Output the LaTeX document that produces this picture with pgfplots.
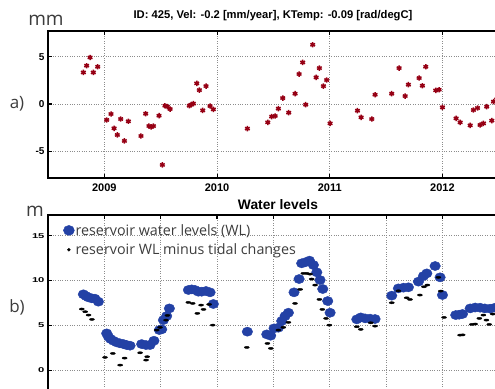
\documentclass[border=0pt]{standalone}
\usepackage{pgfplots}
\pgfplotsset{compat=1.18}
\usepackage{fontspec}
\setmainfont{Liberation Sans}
\newfontfamily\osans{Open Sans}
\definecolor{ptred}{RGB}{150,0,20}
\definecolor{wlblue}{RGB}{35,65,165}
\definecolor{labgray}{RGB}{60,60,60}
\definecolor{gridgray}{RGB}{140,140,140}

\pgfplotstableread{
x y
2008.814 3.33
2008.843 4.04
2008.873 4.91
2008.902 3.33
2008.941 3.93
2009.021 -1.68
2009.059 -1.05
2009.086 -2.56
2009.115 -3.26
2009.145 -1.58
2009.178 -3.89
2009.213 -1.82
2009.325 -3.37
2009.367 -1.02
2009.396 -2.32
2009.414 -2.42
2009.435 -2.32
2009.485 -1.23
2009.515 -6.42
2009.538 -0.18
2009.559 -0.28
2009.583 -0.53
2009.754 -0.18
2009.769 -0.07
2009.790 0.04
2009.820 2.18
2009.843 1.47
2009.873 -0.67
2009.902 1.89
2009.938 -0.21
2009.967 -0.56
2010.269 -2.60
2010.450 -1.93
2010.485 -1.33
2010.515 -1.26
2010.544 -0.49
2010.583 0.63
2010.636 -0.91
2010.692 1.09
2010.728 3.16
2010.760 4.39
2010.787 -0.07
2010.849 6.25
2010.879 2.81
2010.908 3.79
2010.944 1.89
2010.973 2.53
2011.003 -2.04
2011.246 -0.70
2011.278 -1.40
2011.373 -1.58
2011.402 0.98
2011.550 1.09
2011.615 3.79
2011.669 0.84
2011.698 2.04
2011.793 2.74
2011.822 1.93
2011.852 3.93
2011.941 1.44
2011.970 1.51
2012.000 -0.35
2012.121 -1.51
2012.157 -1.93
2012.246 -2.25
2012.275 -0.63
2012.311 -0.42
2012.334 -2.21
2012.364 -2.04
2012.393 -0.28
2012.438 -1.75
2012.453 0.25
2012.482 0.49
}\disp

\pgfplotstableread{
x y
2008.814 8.47
2008.837 8.28
2008.858 8.13
2008.888 8.02
2008.917 7.98
2008.947 7.65
2009.021 4.12
2009.036 3.75
2009.056 3.49
2009.080 3.30
2009.109 3.12
2009.139 3.01
2009.169 2.93
2009.198 2.82
2009.228 2.75
2009.331 2.93
2009.370 2.82
2009.405 2.82
2009.440 3.30
2009.488 4.49
2009.509 4.57
2009.524 5.60
2009.553 6.05
2009.577 6.90
2009.746 8.95
2009.775 9.02
2009.805 8.95
2009.834 8.76
2009.864 8.76
2009.902 8.84
2009.938 8.69
2009.967 7.39
2010.269 4.31
2010.441 4.01
2010.476 3.86
2010.506 4.68
2010.544 4.75
2010.574 5.50
2010.604 6.05
2010.633 6.42
2010.683 8.69
2010.728 10.17
2010.751 11.92
2010.781 12.03
2010.820 12.22
2010.855 11.73
2010.885 10.92
2010.914 10.06
2010.938 9.06
2010.982 7.72
2011.003 6.42
2011.240 5.68
2011.275 5.90
2011.314 5.79
2011.358 5.76
2011.402 5.72
2011.550 8.32
2011.609 9.13
2011.654 9.21
2011.698 9.25
2011.787 9.88
2011.831 10.50
2011.861 10.80
2011.935 11.62
2011.979 10.36
2012.000 8.39
2012.118 6.16
2012.148 6.20
2012.178 6.28
2012.246 6.90
2012.290 7.00
2012.334 6.98
2012.376 6.90
2012.423 6.87
2012.467 6.98
}\wl

\pgfplotstableread{
x y
2008.800 6.83
2008.830 6.53
2008.860 6.16
2008.890 5.68
2009.006 1.45
2009.075 1.89
2009.140 0.59
2009.180 1.37
2009.317 1.96
2009.370 1.15
2009.380 1.52
2009.465 4.49
2009.494 4.79
2009.547 5.60
2009.560 6.12
2009.745 7.57
2009.784 7.46
2009.825 6.35
2009.858 7.27
2009.880 6.79
2009.930 7.35
2009.962 5.04
2010.264 2.56
2010.447 3.00
2010.477 2.45
2010.544 4.49
2010.588 4.79
2010.633 5.35
2010.692 7.46
2010.737 9.02
2010.766 10.80
2010.796 10.80
2010.825 10.72
2010.840 10.17
2010.870 9.50
2010.908 7.90
2010.934 6.79
2010.967 5.79
2010.997 5.04
2011.240 4.86
2011.275 4.57
2011.364 5.30
2011.402 4.93
2011.550 7.53
2011.609 8.86
2011.683 8.08
2011.712 7.90
2011.800 8.39
2011.836 9.31
2011.866 9.50
2011.964 10.36
2011.985 8.83
2012.014 5.90
2012.156 3.93
2012.180 3.95
2012.260 5.12
2012.290 5.16
2012.327 5.79
2012.363 6.16
2012.390 5.60
2012.415 5.12
2012.446 6.27
}\tidal

\begin{document}
\begin{tikzpicture}
\useasboundingbox (0pt,0pt) rectangle (495pt,388pt);
\clip (0pt,0pt) rectangle (495pt,388pt);
\pgfplotsset{
  matstyle/.style={
    scale only axis,
    width=507.15pt,
    xmin=2008.5, xmax=2013,
    axis line style={line width=1.3pt},
    tick align=inside,
    major tick length=4pt,
    tick style={line width=1.1pt, black},
    grid=major,
    grid style={dotted, line width=0.8pt, gridgray},
    /pgf/number format/assume math mode=true,
    /pgf/number format/1000 sep={},
    clip=false,
  }
}
% top panel
\begin{axis}[matstyle,
  at={(48pt,210pt)}, anchor=south west,
  height=147pt,
  ymin=-7.8, ymax=7.7,
  xtick={2009,2010,2011,2012},
  ytick={-5,0,5},
  xticklabel style={font=\bfseries\fontsize{11}{12}\selectfont, yshift=-2pt},
  yticklabel style={font=\bfseries\fontsize{10}{11}\selectfont},
]
\addplot[only marks, mark=asterisk, mark size=2.7pt, ptred, line width=1.5pt] table[x=x,y=y] {\disp};
\end{axis}
% bottom panel
\begin{axis}[matstyle,
  at={(48pt,173pt)}, anchor=north west,
  height=200.3pt,
  ymin=-5, ymax=17.3,
  xtick={2009,2009.5,...,2012.5},
  xticklabels={},
  ytick={0,5,10,15},
  yticklabel={\scalebox{1.6}[1]{\pgfmathprintnumber{\tick}}},
  yticklabel style={font=\bfseries\fontsize{7}{8}\selectfont},
  legend style={draw=none, fill=none, at={(0,1)}, anchor=north west,
    xshift=15pt, yshift=-8pt, inner sep=0pt,
    font=\osans\fontsize{14.3}{16}\selectfont, text=labgray,
    row sep=5pt,
    nodes={inner sep=1pt, anchor=west}},
  legend cell align=left,
]
\addplot[only marks, mark=*, mark size=4.6pt, wlblue, mark options={xscale=1.15},
  legend image code/.code={\fill[wlblue] (5pt,0) ellipse (5.5pt and 5pt);}]
  table[x=x,y=y] {\wl};
\addlegendentry{reservoir water levels (WL)}
\addplot[only marks, mark=*, mark size=1.1pt, black, mark options={xscale=2.3},
  legend image code/.code={\fill[black] (5pt,0) circle (1.5pt);}]
  table[x=x,y=y] {\tidal};
\addlegendentry{reservoir WL minus tidal changes}
\end{axis}
% titles and panel labels
\node[font=\bfseries\fontsize{11.2}{12}\selectfont] at (273pt,372pt) {ID: 425, Vel: -0.2 [mm/year], KTemp: -0.09 [rad/degC]};
\node[font=\bfseries\fontsize{13.8}{15}\selectfont] at (278pt,183pt) {Water levels};
\node[font=\osans\fontsize{19}{21}\selectfont, text=labgray] at (46pt,368pt) {mm};
\node[font=\osans\fontsize{19}{21}\selectfont, text=labgray] at (35pt,177pt) {m};
\node[font=\osans\fontsize{17}{19}\selectfont, text=labgray] at (17pt,284pt) {a)};
\node[font=\osans\fontsize{17}{19}\selectfont, text=labgray] at (17pt,81pt) {b)};
\end{tikzpicture}
\end{document}
